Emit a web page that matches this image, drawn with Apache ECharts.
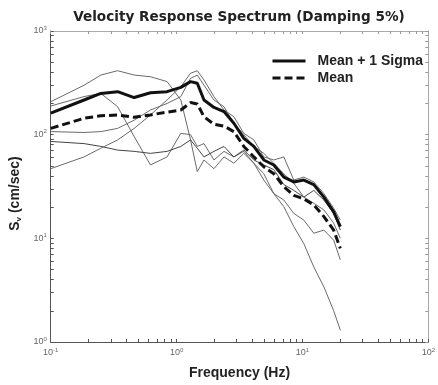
<!DOCTYPE html>
<html>
<head>
<meta charset="utf-8">
<script src="https://cdn.jsdelivr.net/npm/echarts@6/dist/echarts.min.js"></script>
<style>html,body{margin:0;padding:0;background:#fff;}#c{width:438px;height:385px;}</style>
</head>
<body>
<div id="c"></div>
<script>
// Frequencies (Hz)
var freq = [0.1, 0.184, 0.25, 0.34, 0.46, 0.62, 0.84, 1.08, 1.29, 1.46, 1.65, 1.98, 2.38, 2.85, 3.42, 4.11, 4.93, 5.92, 7.11, 8.53, 10.25, 12.3, 14.8, 17.7, 20.0];
// Sv (cm/sec)
var meanPlusSigma = [161, 216, 250, 260, 228, 254, 260, 286, 325, 313, 216, 183, 167, 129, 92, 77, 57, 51, 39, 35, 36.5, 33, 25, 18, 13];
var meanVals      = [115, 144, 152, 155, 147, 155, 165, 173, 204, 198, 149, 126, 121, 107, 77, 61, 49, 42, 31.5, 26, 24, 21, 16.2, 12, 8.0];
var recA = [208, 300, 376, 414, 376, 362, 325, 216, 89, 44, 57, 47, 61, 53, 66, 53, 42, 27, 20.2, 13, 8.9, 5.3, 3.4, 2.0, 1.3];
var recB = [189, 233, 250, 186, 96, 51, 61, 103, 100, 77, 82, 57, 69, 61, 69, 53, 36.5, 27, 23.4, 17.4, 15, 11.2, 12, 9.6, 6.2];
var recC = [107, 105, 107, 115, 138, 173, 200, 233, 349, 376, 300, 216, 186, 129, 100, 77, 66, 53, 42, 34, 25, 21.8, 18.8, 14, 10];
var recD = [86, 82, 77, 71, 69, 66, 69, 77, 89, 74, 61, 69, 77, 61, 71, 57, 51, 46, 33, 29, 25, 29, 23.4, 17.4, 12];
var recE = [47, 61, 74, 89, 115, 155, 216, 290, 391, 414, 337, 233, 173, 149, 103, 89, 61, 57, 61, 36.5, 39, 35, 27, 19.5, 15];
// Tick values
var xTicks = [0.1,0.2,0.3,0.4,0.5,0.6,0.7,0.8,0.9,1,2,3,4,5,6,7,8,9,10,20,30,40,50,60,70,80,90,100];
var yTicks = [1,2,3,4,5,6,7,8,9,10,20,30,40,50,60,70,80,90,100,200,300,400,500,600,700,800,900,1000];

function pairs(v){ return freq.map(function(f,i){ return [f, v[i]]; }); }
function lg(v){ return Math.log(v)/Math.LN10; }
var FONT = '"Liberation Sans", Arial, sans-serif';
function expLabel(v){
  var e = Math.round(lg(v));
  return '{b|10}{e|' + e + '}';
}
var labelRich = {
  b: {fontSize: 9, color: '#666', fontFamily: FONT},
  e: {fontSize: 6, color: '#666', fontFamily: FONT, verticalAlign: 'top', padding: [0,0,6,0]}
};
function tickAxis(pos, min, max, ticks, col){
  return {
    type: 'value', min: min, max: max, position: pos,
    axisLine: {show: false, onZero: false},
    axisTick: {show: true, inside: true, length: 3, lineStyle: {color: col, width: 1}, customValues: ticks.map(lg)},
    axisLabel: {show: false}, splitLine: {show: false}
  };
}

var thin = function(name, v, col){
  return {name: name, type: 'line', data: pairs(v), symbol: 'none', silent: true,
    lineStyle: {color: col || '#6a6a6a', width: 1}, z: 2};
};

var chart = echarts.init(document.getElementById('c'));
chart.setOption({
  backgroundColor: '#fff',
  animation: false,
  title: {
    text: 'Velocity Response Spectrum (Damping 5%)',
    left: 239, textAlign: 'center', top: 10, padding: 0,
    textStyle: {fontSize: 13.6, fontWeight: 'bold', color: '#222', fontFamily: '"DejaVu Sans", sans-serif'}
  },
  legend: {
    data: ['Mean + 1 Sigma', 'Mean'],
    orient: 'vertical', left: 271, top: 54, padding: 0,
    itemWidth: 33, itemHeight: 12, itemGap: 3,
    itemStyle: {opacity: 0, color: 'rgba(0,0,0,0)', borderWidth: 0},
    lineStyle: {width: 3},
    textStyle: {fontSize: 14, fontWeight: 'bold', color: '#222', fontFamily: FONT, padding: [0,0,0,7]}
  },
  grid: {left: 50, right: 8, top: 31, bottom: 43, containLabel: false},
  xAxis: [{
    type: 'log', logBase: 10, min: 0.1, max: 100,
    name: 'Frequency (Hz)', nameLocation: 'middle', nameGap: 24,
    nameTextStyle: {fontSize: 14, fontWeight: 'bold', color: '#222', fontFamily: FONT},
    axisLine: {show: true, onZero: false, lineStyle: {color: '#555', width: 1}},
    axisTick: {show: false},
    axisLabel: {formatter: expLabel, rich: labelRich, margin: 5},
    splitLine: {show: false}
  }, {
    type: 'log', logBase: 10, min: 0.1, max: 100, position: 'top',
    axisLine: {show: true, onZero: false, lineStyle: {color: '#aaa', width: 1}},
    axisTick: {show: false}, axisLabel: {show: false}, splitLine: {show: false}
  },
    tickAxis('bottom', -1, 2, xTicks, '#555'),
    tickAxis('top', -1, 2, xTicks, '#999')
  ],
  yAxis: [{
    type: 'log', logBase: 10, min: 1, max: 1000,
    name: '{a|S}{s|v}{a| (cm/sec)}', nameLocation: 'middle', nameGap: 22, nameRotate: 90,
    nameTextStyle: {padding: [0, 14, 0, 0], rich: {
      a: {fontSize: 14, fontWeight: 'bold', color: '#222', fontFamily: FONT},
      s: {fontSize: 8, fontWeight: 'bold', color: '#222', fontFamily: FONT, verticalAlign: 'bottom', padding: [7,0,0,0]}
    }},
    axisLine: {show: true, onZero: false, lineStyle: {color: '#555', width: 1}},
    axisTick: {show: false},
    axisLabel: {formatter: expLabel, rich: labelRich, margin: 4},
    splitLine: {show: false}
  }, {
    type: 'log', logBase: 10, min: 1, max: 1000, position: 'right',
    axisLine: {show: true, onZero: false, lineStyle: {color: '#aaa', width: 1}},
    axisTick: {show: false}, axisLabel: {show: false}, splitLine: {show: false}
  },
    tickAxis('left', 0, 3, yTicks, '#555'),
    tickAxis('right', 0, 3, yTicks, '#999')
  ],
  series: [
    thin('rec A', recA),
    thin('rec B', recB),
    thin('rec C', recC),
    thin('rec D', recD, '#444'),
    thin('rec E', recE),
    {name: 'Mean + 1 Sigma', type: 'line', data: pairs(meanPlusSigma), symbol: 'none',
      lineStyle: {color: '#111', width: 3}, itemStyle: {color: '#111'}, z: 5},
    {name: 'Mean', type: 'line', data: pairs(meanVals), symbol: 'none',
      lineStyle: {color: '#111', width: 3, type: [8, 4]}, itemStyle: {color: '#111'}, z: 5}
  ]
});
</script>
</body>
</html>
